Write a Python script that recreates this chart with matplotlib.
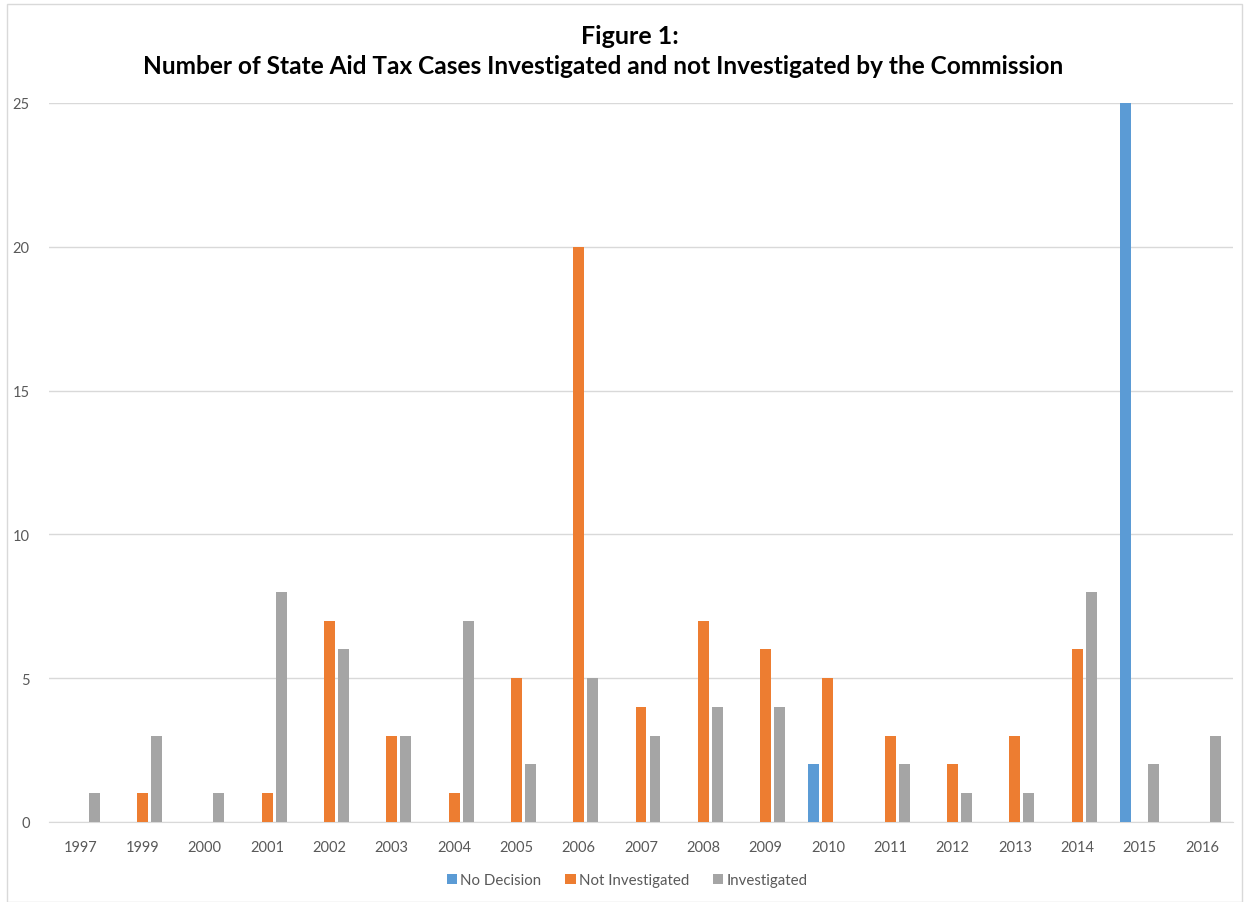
import numpy as np
import matplotlib.pyplot as plt
from matplotlib.patches import Rectangle

years = ['1997', '1999', '2000', '2001', '2002', '2003', '2004', '2005', '2006', '2007',
         '2008', '2009', '2010', '2011', '2012', '2013', '2014', '2015', '2016']
no_decision = [0, 0, 0, 0, 0, 0, 0, 0, 0, 0, 0, 0, 2, 0, 0, 0, 0, 25, 0]
not_investigated = [0, 1, 0, 1, 7, 3, 1, 5, 20, 4, 7, 6, 5, 3, 2, 3, 6, 0, 0]
investigated = [1, 3, 1, 8, 6, 3, 7, 2, 5, 3, 4, 4, 0, 2, 1, 1, 8, 2, 3]

BLUE = '#5B9BD5'
ORANGE = '#ED7D31'
GRAY = '#A5A5A5'
TEXT = '#595959'
GRID = '#D9D9D9'

plt.rcParams['font.family'] = ['Lato', 'DejaVu Sans']

fig = plt.figure(figsize=(12.49, 9.03), dpi=100)
ax = fig.add_axes([49 / 1249, 1 - 823 / 903, (1233 - 49) / 1249, (823 - 104) / 903])

x = np.arange(len(years))
w = 0.175
off = 0.225
ax.bar(x - off, no_decision, w, color=BLUE, label='No Decision', zorder=3)
ax.bar(x, not_investigated, w, color=ORANGE, label='Not Investigated', zorder=3)
ax.bar(x + off, investigated, w, color=GRAY, label='Investigated', zorder=3)

ax.set_xlim(-0.5, len(years) - 0.5)
ax.set_ylim(0, 25)
ax.set_yticks([0, 5, 10, 15, 20, 25])
ax.set_xticks(x)
ax.set_xticklabels(years)
ax.grid(axis='y', color=GRID, linewidth=1, zorder=0)
ax.tick_params(axis='both', length=0, labelsize=10.5, labelcolor=TEXT)
ax.tick_params(axis='x', pad=13)
ax.tick_params(axis='y', pad=14)
for s in ['left', 'right', 'top']:
    ax.spines[s].set_visible(False)
ax.spines['bottom'].set_color(GRID)

# title, two lines (second line sits a bit left of centre in the original)
fig.text(630 / 1249, 1 - 36 / 903, 'Figure 1:', ha='center', va='center',
         fontsize=18, fontweight='bold', color='black')
fig.text(603 / 1249, 1 - 66 / 903,
         'Number of State Aid Tax Cases Investigated and not Investigated by the Commission',
         ha='center', va='center', fontsize=17.6, fontweight='bold', color='black')

handles, labels = ax.get_legend_handles_labels()
fig.legend(handles, labels, loc='center', bbox_to_anchor=(627 / 1249, 1 - 881 / 903), ncol=3,
           frameon=False, fontsize=10.8, labelcolor=TEXT, handlelength=0.7, handleheight=0.7,
           handletextpad=0.2, columnspacing=1.6)

fig.patches.append(Rectangle((7 / 1249, 0), 1 - 14 / 1249, 1 - 5 / 903, transform=fig.transFigure,
                             fill=False, edgecolor=GRID, linewidth=1))

fig.savefig('out.png', dpi=100, facecolor='white')
